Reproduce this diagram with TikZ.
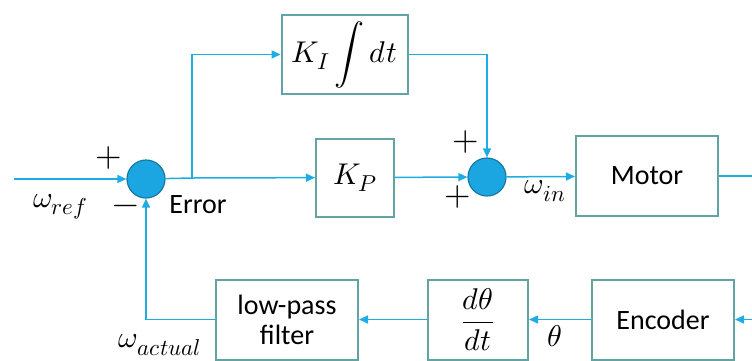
\documentclass[tikz,border=0pt]{standalone}
\usepackage{amsmath}
\usepackage{fontspec}
\usepackage{unicode-math}
\setmainfont{Carlito}
\setmathfont{Latin Modern Math}
\DeclareMathSizes{30}{30}{23}{17}
\usetikzlibrary{arrows.meta}
\definecolor{wirec}{RGB}{30,172,228}
\definecolor{boxc}{RGB}{98,164,164}
\definecolor{sumfill}{RGB}{27,166,226}
\definecolor{sumedge}{RGB}{24,120,160}
\tikzset{
  wire/.style={draw=wirec, line width=1.5pt},
  tip/.style={-{Triangle[length=9pt,width=8pt]}},
  block/.style={draw=boxc, line width=2pt, fill=white, inner sep=0pt,
    font=\fontsize{28}{32}\selectfont, align=center},
  mblock/.style={block, font=\fontsize{30}{34}\selectfont},
  sumnode/.style={circle, draw=sumedge, fill=sumfill, line width=1.2pt,
    minimum size=38pt, inner sep=0pt},
  lbl/.style={inner sep=0pt, font=\fontsize{28}{32}\selectfont},
  mlbl/.style={inner sep=0pt, font=\fontsize{30}{34}\selectfont},
  sign/.style={inner sep=0pt, font=\fontsize{34}{36}\selectfont},
}
\begin{document}
\begin{tikzpicture}[x=1pt,y=-1pt]
\useasboundingbox (0,0) rectangle (752,360);
% forward path
\coordinate (in) at (14,179);
\node[sumnode] (S1) at (146,179) {};
\coordinate (br) at (192,178);
\node[mblock, minimum width=126pt, minimum height=79pt] (KI) at (344.5,54.5) {$K_I\displaystyle\int dt$};
\node[mblock, minimum width=78pt, minimum height=78pt] (KP) at (355,177.5) {$K_P$};
\node[sumnode] (S2) at (487,177) {};
\node[block, minimum width=142pt, minimum height=80pt] (M) at (647,176) {Motor};
\coordinate (mout) at (752,176);
% feedback path
\coordinate (encin) at (752,319.5);
\node[block, minimum width=142pt, minimum height=80pt] (Enc) at (663,319.5) {Encoder};
\node[mblock, minimum width=100pt, minimum height=80pt] (D) at (478,319.5) {$\dfrac{d\theta}{dt}$};
\node[block, minimum width=142pt, minimum height=80pt, font=\fontsize{28}{30}\selectfont] (LPF) at (287,319.5) {low-pass\\filter};
% connectors
\draw[wire,tip] (in) -- (S1);
\draw[wire] (S1) -- (br);
\draw[wire,tip] (br) -- (KP);
\draw[wire,tip] (br) |- (KI.west);
\draw[wire,tip] (KI.east) -| (S2.north);
\draw[wire,tip] (KP) -- (S2);
\draw[wire,tip] (S2) -- (M);
\draw[wire] (M) -- (mout);
\draw[wire,tip] (encin) -- (Enc);
\draw[wire,tip] (Enc) -- (D);
\draw[wire,tip] (D) -- (LPF);
\draw[wire,tip] (LPF.west) -| (S1.south);
% labels
\node[sign] (p1) at (109,158) {$+$};
\node[sign] (m1) at (126,210) {$-$};
\node[mlbl] (wref) at (60,207) {$\omega_{ref}$};
\node[lbl] (err) at (198,205) {Error};
\node[sign] (p2) at (466,142) {$+$};
\node[sign] (p3) at (458,197) {$+$};
\node[mlbl] (win) at (545,191) {$\omega_{in}$};
\node[mlbl] (th) at (555,336) {$\theta$};
\node[mlbl] (wact) at (160,345) {$\omega_{actual}$};
\end{tikzpicture}
\end{document}
